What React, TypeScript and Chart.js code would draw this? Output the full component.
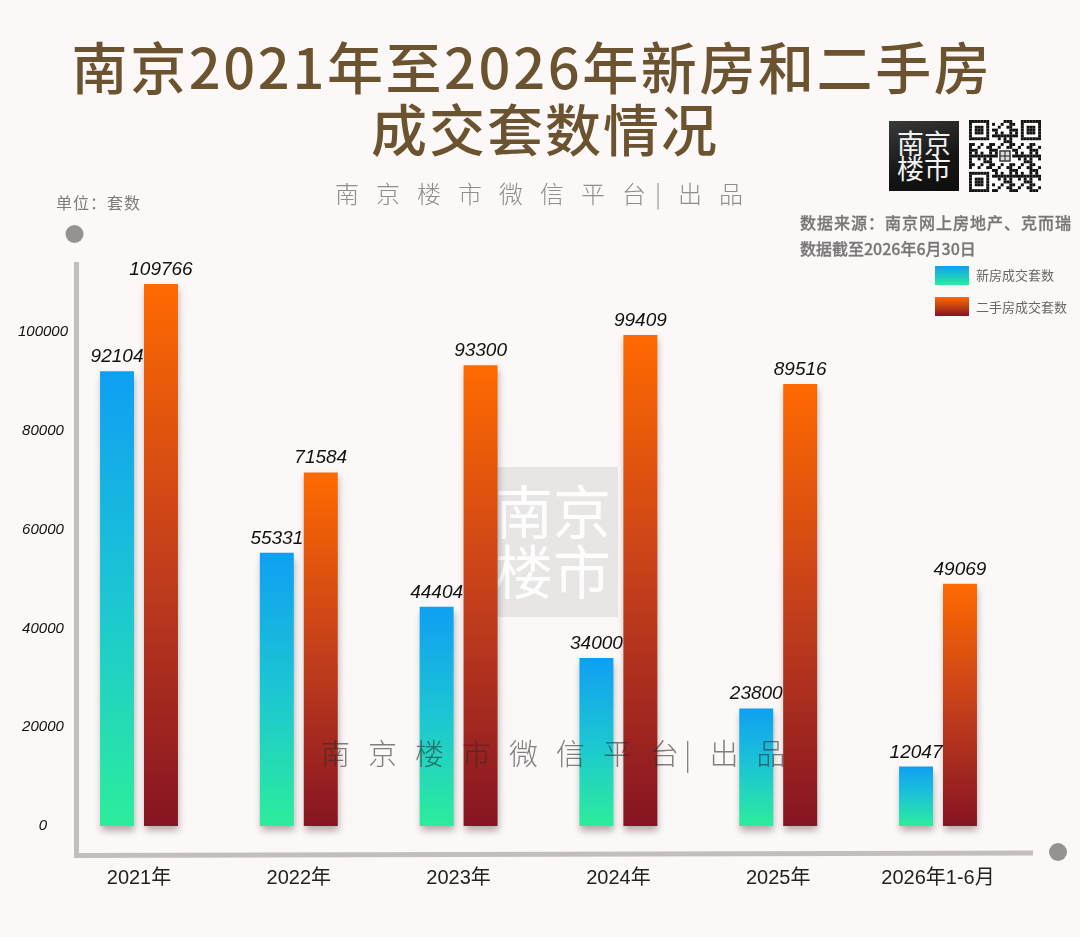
import React, { useEffect, useRef } from "react";
import { Chart, registerables } from "chart.js";

Chart.register(...registerables);

// ---------- data ----------
const categories = ["2021年", "2022年", "2023年", "2024年", "2025年", "2026年1-6月"];
const newHomeSales = [92104, 55331, 44404, 34000, 23800, 12047];
const resaleSales = [109766, 71584, 93300, 99409, 89516, 49069];
const yTickValues = [0, 20000, 40000, 60000, 80000, 100000];
const seriesNames = ["新房成交套数", "二手房成交套数"];

const LATIN = "'Liberation Sans', Arial, 'Noto Sans CJK SC', sans-serif";
const CJK = "'Noto Sans CJK SC', 'Noto Sans', sans-serif";

const BLUE_STOPS = ["#0f9ff3", "#1cc6d3", "#2ced9c"];
const ORANGE_STOPS = ["#ff6a00", "#c5401b", "#861422"];

function barGradient(stops: string[]) {
  return (ctx: any) => {
    const chart = ctx.chart;
    const y = chart.scales && chart.scales.y;
    if (!y || ctx.raw == null) return stops[0];
    const y0 = y.getPixelForValue(ctx.raw);
    const y1 = y.getPixelForValue(0);
    if (!isFinite(y0) || !isFinite(y1) || y0 === y1) return stops[0];
    const g = chart.ctx.createLinearGradient(0, y0, 0, y1);
    g.addColorStop(0, stops[0]);
    g.addColorStop(0.5, stops[1]);
    g.addColorStop(1, stops[2]);
    return g;
  };
}

const decorPlugin = {
  id: "decor",
  beforeDraw(chart: any) {
    const { ctx, chartArea } = chart;
    const ax = chartArea.left - 62.5;
    const ay = chartArea.bottom + 27;
    ctx.save();
    ctx.strokeStyle = "#c3bebe";
    ctx.lineWidth = 5;
    ctx.lineCap = "butt";
    ctx.beginPath();
    ctx.moveTo(ax, chartArea.top - 1);
    ctx.lineTo(ax, ay + 2.5);
    ctx.lineTo(chartArea.right + 95, ay);
    ctx.stroke();
    ctx.fillStyle = "#979292";
    ctx.beginPath();
    ctx.arc(ax - 2, chartArea.top - 29, 9, 0, Math.PI * 2);
    ctx.fill();
    ctx.beginPath();
    ctx.arc(chartArea.right + 120, ay - 1, 9, 0, Math.PI * 2);
    ctx.fill();
    ctx.restore();
  },
  beforeDatasetsDraw(chart: any) {
    const ctx = chart.ctx;
    ctx.save();
    ctx.shadowColor = "rgba(0,0,0,0.30)";
    ctx.shadowBlur = 7;
    ctx.shadowOffsetX = 1;
    ctx.shadowOffsetY = 5;
  },
  afterDatasetsDraw(chart: any) {
    const ctx = chart.ctx;
    ctx.restore();
    ctx.save();
    ctx.font = `italic 19px ${LATIN}`;
    ctx.fillStyle = "#111";
    ctx.textAlign = "center";
    ctx.textBaseline = "alphabetic";
    chart.data.datasets.forEach((ds: any, di: number) => {
      const meta = chart.getDatasetMeta(di);
      meta.data.forEach((bar: any, i: number) => {
        ctx.fillText(String(ds.data[i]), bar.x, bar.y - 9);
      });
    });
    ctx.restore();
  },
};

function QRCode() {
  const n = 25;
  const cells: React.ReactNode[] = [];
  const inFinder = (r: number, c: number) =>
    (r < 8 && c < 8) || (r < 8 && c >= n - 8) || (r >= n - 8 && c < 8);
  const finderOn = (r: number, c: number) => {
    const rr = r >= n - 8 ? r - (n - 7) : r;
    const cc = c >= n - 8 ? c - (n - 7) : c;
    if (rr < 0 || cc < 0 || rr > 6 || cc > 6) return false;
    if (rr === 0 || rr === 6 || cc === 0 || cc === 6) return true;
    return rr >= 2 && rr <= 4 && cc >= 2 && cc <= 4;
  };
  for (let r = 0; r < n; r++) {
    for (let c = 0; c < n; c++) {
      let on: boolean;
      if (inFinder(r, c)) on = finderOn(r, c);
      else if (r >= 10 && r <= 14 && c >= 10 && c <= 14) on = false;
      else on = ((r * 7 + c * 13 + r * c * 3) % 7) < 3;
      if (on) cells.push(<rect key={r + "-" + c} x={c} y={r} width={1.02} height={1.02} fill="#111" />);
    }
  }
  return (
    <svg width={72} height={72} viewBox={`0 0 ${n} ${n}`} style={{ position: "absolute", left: 969, top: 120, background: "#fff" }}>
      {cells}
      <rect x={10.5} y={10.5} width={4} height={4} fill="#333" />
      <rect x={11} y={11} width={1.3} height={1.3} fill="#ddd" />
      <rect x={12.7} y={11} width={1.3} height={1.3} fill="#ddd" />
      <rect x={11} y={12.7} width={1.3} height={1.3} fill="#ddd" />
      <rect x={12.7} y={12.7} width={1.3} height={1.3} fill="#ddd" />
    </svg>
  );
}

export default function App() {
  const canvasRef = useRef<HTMLCanvasElement | null>(null);

  useEffect(() => {
    if (!canvasRef.current) return;
    Chart.defaults.font.family = LATIN;
    const chart = new Chart(canvasRef.current, {
      type: "bar",
      data: {
        labels: categories,
        datasets: [
          {
            label: seriesNames[0],
            data: newHomeSales,
            backgroundColor: barGradient(BLUE_STOPS),
            borderWidth: 0,
            clip: false as any,
          },
          {
            label: seriesNames[1],
            data: resaleSales,
            backgroundColor: barGradient(ORANGE_STOPS),
            borderWidth: 0,
            clip: false as any,
          },
        ],
      },
      options: {
        animation: false,
        responsive: false,
        devicePixelRatio: 1,
        layout: { padding: { left: 0, right: 142, top: 263, bottom: 0 } },
        datasets: { bar: { categoryPercentage: 0.55, barPercentage: 0.773 } },
        plugins: {
          legend: { display: false },
          tooltip: { enabled: false },
          title: { display: false },
        },
        scales: {
          x: {
            offset: false,
            grid: { display: false, drawTicks: false, offset: false },
            border: { display: false },
            ticks: {
              color: "#222",
              font: { size: 20, family: LATIN },
              padding: 40,
              maxRotation: 0,
              autoSkip: false,
            },
            afterFit: (s: any) => {
              s.height = 111;
            },
          },
          y: {
            min: 0,
            max: 114000,
            grid: { display: false, drawTicks: false },
            border: { display: false },
            afterBuildTicks: (s: any) => {
              s.ticks = yTickValues.map((v) => ({ value: v }));
            },
            ticks: {
              color: "#111",
              font: { size: 15, style: "italic", family: LATIN },
              padding: 71,
              crossAlign: "center",
              callback: (v: any) => String(v),
            },
            afterFit: (s: any) => {
              s.width = 139;
            },
          },
        },
      },
      plugins: [decorPlugin],
    });
    return () => chart.destroy();
  }, []);

  const abs = (o: React.CSSProperties): React.CSSProperties => ({ position: "absolute", whiteSpace: "nowrap", margin: 0, ...o });

  return (
    <div style={{ position: "fixed", left: 0, top: 0, width: 1080, height: 937, background: "#fcf8f7", overflow: "hidden", fontFamily: CJK }}>
      {/* centre watermark box (behind bars) */}
      <div style={abs({ left: 473, top: 467, width: 145, height: 150, background: "rgba(200,200,200,0.38)" })}>
        <div style={abs({ left: 22, top: 12, fontSize: 58, lineHeight: "60px", color: "rgba(255,255,255,0.9)", fontFamily: CJK, letterSpacing: 0, width: 130 })}>
          南京<br />楼市
        </div>
      </div>

      <canvas ref={canvasRef} width={1080} height={937} style={{ position: "absolute", left: 0, top: 0, width: 1080, height: 937 }} />

      {/* title */}
      <div style={abs({ left: 532, top: 35, transform: "translateX(-50%)", fontSize: 56, lineHeight: "60px", color: "#6b5330", letterSpacing: 2.6, fontWeight: 500, fontFamily: "'Noto Sans CJK SC', 'Liberation Sans', sans-serif" })}>
        南京2021年至2026年新房和二手房
      </div>
      <div style={abs({ left: 545, top: 97, transform: "translateX(-50%)", fontSize: 56, lineHeight: "60px", color: "#6b5330", letterSpacing: 2, fontWeight: 500 })}>
        成交套数情况
      </div>

      {/* subtitle */}
      <div style={abs({ left: 335, top: 179, fontSize: 24, lineHeight: "28px", color: "#8e8e8e", letterSpacing: 17, fontWeight: 200 })}>
        南京楼市微信平台<span style={{ marginLeft: -8 }}>|</span>出品
      </div>

      {/* unit */}
      <div style={abs({ left: 56, top: 191, fontSize: 16, lineHeight: "22px", color: "#7c7c7c", letterSpacing: 1 })}>单位：套数</div>

      {/* logo */}
      <div style={abs({ left: 889, top: 121, width: 70, height: 70, background: "linear-gradient(160deg, #3a3a3a 0%, #151515 60%, #0d0d0d 100%)" })}>
        <div style={abs({ left: 0, top: 9, width: 70, textAlign: "center", fontSize: 27, lineHeight: "25px", color: "#f2f2f2" })}>
          南京<br />楼市
        </div>
      </div>
      <QRCode />

      {/* source */}
      <div style={abs({ left: 800, top: 211, fontSize: 16, lineHeight: "22px", color: "#777", fontWeight: 500, letterSpacing: 1, WebkitTextStroke: "0.3px #777" })}>
        数据来源：南京网上房地产、克而瑞
      </div>
      <div style={abs({ left: 800, top: 237, fontSize: 16, lineHeight: "22px", color: "#777", fontWeight: 500, WebkitTextStroke: "0.3px #777" })}>
        数据截至2026年6月30日
      </div>

      {/* legend */}
      <div style={abs({ left: 935, top: 266, width: 34, height: 19, background: `linear-gradient(180deg, ${BLUE_STOPS[0]}, ${BLUE_STOPS[2]})` })} />
      <div style={abs({ left: 976, top: 266, fontSize: 13, lineHeight: "18px", color: "#666" })}>{seriesNames[0]}</div>
      <div style={abs({ left: 935, top: 297, width: 34, height: 19, background: `linear-gradient(180deg, ${ORANGE_STOPS[0]}, ${ORANGE_STOPS[2]})` })} />
      <div style={abs({ left: 976, top: 298, fontSize: 13, lineHeight: "18px", color: "#666" })}>{seriesNames[1]}</div>

      {/* lower watermark over bars */}
      <div style={abs({ left: 321, top: 736, fontSize: 29, lineHeight: "32px", color: "rgba(45,45,45,0.6)", letterSpacing: 18, fontWeight: 200 })}>
        南京楼市微信平台<span style={{ marginLeft: -13 }}>|</span>出品
      </div>
    </div>
  );
}
